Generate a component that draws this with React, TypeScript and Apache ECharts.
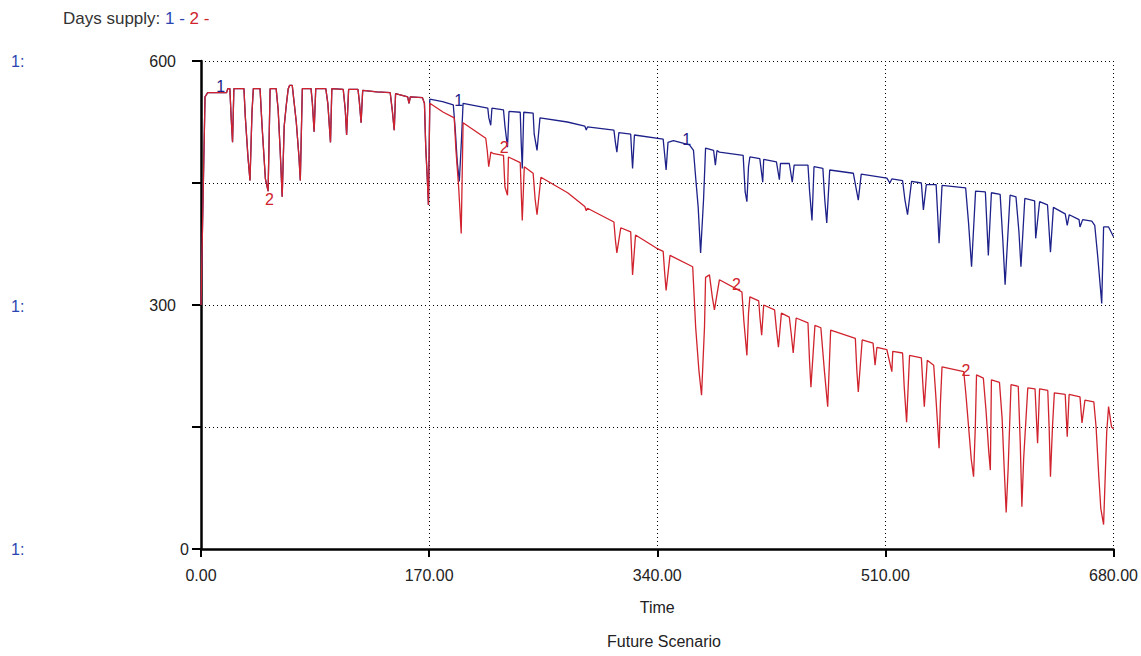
import React, { useEffect, useRef } from "react";
import * as echarts from "echarts";

// Shared run-in phase: both scenarios follow the same path until t ≈ 170
const commonTimes = [
  0, 3, 5, 19, 20, 21.5, 22.5, 23.5, 24.5, 32, 33, 35, 36.5, 38, 39,
  44, 45.5, 48, 50, 51.5, 56, 57.5, 59, 60.5, 62, 63.5, 65, 66, 68, 69, 71, 73, 74, 75.5,
  82, 83, 84.3, 85.5, 93, 94.5, 96.5, 97.5, 106, 107.5, 108.5, 110, 117, 118, 119.3, 120.5,
  131, 141, 142.5, 144, 145, 154, 155, 156, 165, 166.5, 167.5, 168.5, 169.5,
];
const commonValues = [
  300, 556, 561, 561, 566, 566, 530, 500, 566, 566, 532, 482, 453, 537, 566,
  566, 520, 455, 440, 566, 566, 540, 490, 433, 520, 545, 566, 570, 570, 555, 525, 482, 453, 566,
  566, 548, 513, 566, 566, 548, 500, 566, 565, 540, 509, 565, 565, 550, 524, 564,
  562, 561, 540, 515, 560, 556, 548, 556, 555, 548, 493, 460, 423,
];

// Series 1 (blue) after the split
const series1Times = [
  170.5, 180, 188, 189.5, 191, 192.5, 194, 195.3, 213.7, 214.5, 215.9, 216.8,
  225.4, 226.5, 228.4, 229.5, 237.9, 238.6, 239.4, 240.5, 247.5, 248.3, 250.4, 252.6,
  273, 286, 287.1, 288, 307.7, 308.8, 309.9, 311.4, 320.2, 321, 321.6, 323,
  344.4, 345.5, 346.6, 348, 352, 364, 367, 368.6, 370.5, 372.3, 374.5, 376,
  382, 383.3, 384.5, 386.3, 404, 405.5, 406.8, 408, 409, 416.4, 418.6, 419.3,
  428.8, 431, 431.8, 438.4, 440.6, 442, 452.3, 453.5, 455.3, 456.8, 463.4, 464.8, 466.3, 468.5,
  486.1, 488, 489.8, 492, 511.1, 513.3, 514.8, 522.8, 524.5, 526.5, 529.5,
  536.8, 538.3, 540.5, 547.8, 549, 550, 552.2, 569.8, 572, 574.2, 577.2,
  584.5, 586.7, 589, 595.5, 597.5, 599.2, 602.9, 607.3, 609.5, 611, 613.9,
  621.2, 622, 624.9, 630.8, 633, 635.2, 644, 645.5, 647, 654.3, 655, 657,
  663.8, 666, 668.2, 671.2, 672.6, 676.3, 680,
];
const series1Values = [
  553, 550, 546, 515, 475, 452, 500, 548, 542, 530, 521, 542,
  540, 520, 494, 538, 537, 500, 468, 537, 536, 510, 490, 530,
  525, 520, 515, 519, 515, 500, 488, 512, 510, 485, 468, 509,
  504, 485, 466, 500, 502, 497, 490, 457, 420, 364, 430, 493,
  490, 472, 490, 488, 484, 439, 427, 470, 482, 480, 451, 479,
  476, 454, 474, 474, 451, 472, 472, 440, 404, 470, 468, 430, 401, 466,
  462, 445, 429, 461, 456, 450, 455, 453, 430, 411, 452,
  450, 417, 448, 448, 410, 376, 447, 444, 400, 347, 440,
  439, 361, 438, 436, 380, 325, 435, 433, 390, 347, 431,
  428, 382, 427, 423, 365, 420, 412, 398, 411, 405, 396, 405,
  403, 398, 360, 302, 396, 396, 384,
];

// Series 2 (red) after the split
const series2Times = [
  170.5, 180.6, 188.7, 190, 192, 193.9, 195.3, 212.2, 213.3, 214.4, 216, 218.1,
  225.4, 226.5, 228.4, 229.1, 237.9, 238.6, 239.4, 240.9, 247.5, 249, 250.4, 253.3,
  273.2, 286, 287.1, 288, 307.7, 308.8, 309.9, 312.8, 320.2, 321, 321.6, 323.8,
  339.3, 344.4, 345.5, 346.6, 349.5, 366.4, 368.6, 371, 373, 375.2, 376, 378.9, 381, 382.6, 386.3,
  401, 403.1, 404.5, 406.8, 408, 409, 415.6, 416.5, 417.8, 419.3, 427.4, 428.8, 430.3, 432.5,
  438.4, 439.8, 441.3, 443.5, 452.3, 453.5, 454.5, 457.5, 461.9, 464.5, 467, 469.2,
  487.6, 488.7, 489.8, 492.7, 500.8, 502.3, 503.7, 511.1, 514.8, 515.5,
  522.8, 524, 525.8, 528, 536.8, 538, 539, 541.2,
  546, 547.5, 549, 550, 551, 552.2, 568.4, 570, 572, 574, 575.7, 577, 577.9,
  583, 585, 587, 588.2, 589, 595, 597, 598.5, 600, 601.5, 603.6,
  609, 610.5, 611.7, 613, 616.1, 621.5, 623.4, 624.9, 631, 632, 633, 634.5, 635.9,
  644, 645.5, 646.9, 655, 656.5, 658.7, 665.3, 667, 669, 670.5, 672.6, 674.9, 676.3, 678.5, 680,
];
const series2Values = [
  548, 537, 530, 490, 445, 388, 524, 505, 490, 470, 488, 486,
  484, 445, 435, 482, 475, 440, 404, 470, 462, 430, 411, 457,
  438, 421, 416, 419, 402, 380, 364, 395, 390, 360, 337, 386,
  370, 366, 340, 318, 361, 347, 273, 220, 189, 273, 334, 337, 310, 294, 331,
  318, 316, 281, 238, 290, 310, 305, 285, 263, 300, 294, 270, 248, 290,
  285, 265, 241, 284, 278, 230, 199, 275, 272, 220, 175, 269,
  259, 220, 193, 257, 253, 226, 248, 245, 218, 243,
  241, 200, 156, 238, 235, 200, 175, 232,
  226, 190, 150, 124, 180, 224, 218, 190, 150, 110, 89, 150, 214,
  210, 170, 120, 97, 208, 205, 160, 100, 45, 100, 202,
  200, 130, 52, 110, 198, 197, 130, 197, 195, 150, 89, 150, 192,
  190, 138, 190, 187, 155, 183, 181, 150, 90, 50, 30, 143, 175, 150, 148,
];

// Series number tags placed along each curve
const series1Tags: [number, number][] = [[14.7, 569], [192, 551], [362, 503]];
const series2Tags: [number, number][] = [[51, 430], [226, 494], [399, 325], [570, 220]];

const yTickLabels = [0, 300, 600];
const xTicks = [0, 170, 340, 510, 680];

const BLUE = "#1d2189";
const RED = "#d0232d";
const LABEL_BLUE = "#2a45b0";
const FONT = "'Liberation Sans', Arial, sans-serif";
const FS = 16;

function pairs(t: number[], v: number[]) {
  return t.map((x, i) => [x, v[i]]);
}

export default function App() {
  const ref = useRef<HTMLDivElement>(null);

  useEffect(() => {
    if (!ref.current) return;
    const chart = echarts.init(ref.current, undefined, { renderer: "svg" });

    const s1 = pairs(commonTimes.concat(series1Times), commonValues.concat(series1Values));
    const s2 = pairs(commonTimes.concat(series2Times), commonValues.concat(series2Values));

    const dotted = { type: [1, 3] as number[], color: "#000", width: 1 };

    const tagPoints = (tags: [number, number][], text: string, color: string) => ({
      symbol: "circle",
      symbolSize: 2,
      silent: true,
      itemStyle: { color: "rgba(0,0,0,0)" },
      label: {
        show: true,
        formatter: text,
        color,
        fontFamily: FONT,
        fontSize: FS,
        position: "inside",
      },
      data: tags.map((c) => ({ coord: c, value: text })),
    });

    chart.setOption({
      animation: false,
      backgroundColor: "#fff",
      grid: { left: 201, right: 14, top: 61, bottom: 107, containLabel: false },
      xAxis: {
        type: "value",
        min: 0,
        max: 680,
        interval: 170,
        axisLine: { show: true, onZero: false, lineStyle: { color: "#000", width: 2.5 } },
        axisTick: { show: true, inside: false, length: 8, lineStyle: { color: "#000", width: 2 } },
        axisLabel: {
          color: "#222",
          fontFamily: FONT,
          fontSize: FS,
          margin: 18,
          formatter: (v: number) => (xTicks.includes(v) ? v.toFixed(2) : ""),
        },
        splitLine: { show: true, lineStyle: dotted },
        name: "Time",
        nameLocation: "middle",
        nameGap: 50,
        nameTextStyle: { color: "#222", fontFamily: FONT, fontSize: FS },
      },
      yAxis: {
        type: "value",
        min: 0,
        max: 600,
        interval: 150,
        axisLine: { show: true, onZero: false, lineStyle: { color: "#000", width: 2.5 } },
        axisTick: { show: true, inside: false, length: 9, lineStyle: { color: "#000", width: 2 } },
        axisLabel: {
          color: "#222",
          fontFamily: FONT,
          fontSize: FS,
          margin: 12,
          formatter: (v: number) =>
            yTickLabels.includes(v) ? (v === 0 ? "{z|0}" : `{w|${v}}`) : "",
          rich: {
            z: { color: "#222", fontFamily: FONT, fontSize: FS },
            w: { color: "#222", fontFamily: FONT, fontSize: FS, padding: [0, 13, 0, 0] },
          },
        },
        splitLine: { show: true, lineStyle: dotted },
      },
      graphic: [
        {
          type: "text",
          x: 63,
          y: 18,
          style: {
            text: "{t|Days supply: }{b|1 - }{r|2 -}",
            verticalAlign: "middle",
            rich: {
              t: { fill: "#333", fontFamily: FONT, fontSize: 17 },
              b: { fill: LABEL_BLUE, fontFamily: FONT, fontSize: 17 },
              r: { fill: RED, fontFamily: FONT, fontSize: 17 },
            },
          },
        },
        ...[61, 306, 549].map((y) => ({
          type: "text",
          x: 11,
          y,
          style: {
            text: "1:",
            fill: LABEL_BLUE,
            fontFamily: FONT,
            fontSize: FS,
            verticalAlign: "middle",
          },
        })),
        {
          type: "text",
          x: 664,
          y: 641,
          style: {
            text: "Future Scenario",
            fill: "#222",
            fontFamily: FONT,
            fontSize: FS,
            align: "center",
            verticalAlign: "middle",
          },
        },
      ],
      series: [
        {
          name: "1",
          type: "line",
          data: s1,
          symbol: "none",
          lineStyle: { color: BLUE, width: 1.3 },
          markPoint: tagPoints(series1Tags, "1", BLUE),
          z: 3,
        },
        {
          name: "2",
          type: "line",
          data: s2,
          symbol: "none",
          lineStyle: { color: RED, width: 1.3 },
          markPoint: tagPoints(series2Tags, "2", RED),
          z: 4,
        },
      ],
    });

    return () => chart.dispose();
  }, []);

  return (
    <div
      ref={ref}
      style={{ position: "absolute", left: 0, top: 0, width: 1141, height: 656, background: "#fff" }}
    />
  );
}
